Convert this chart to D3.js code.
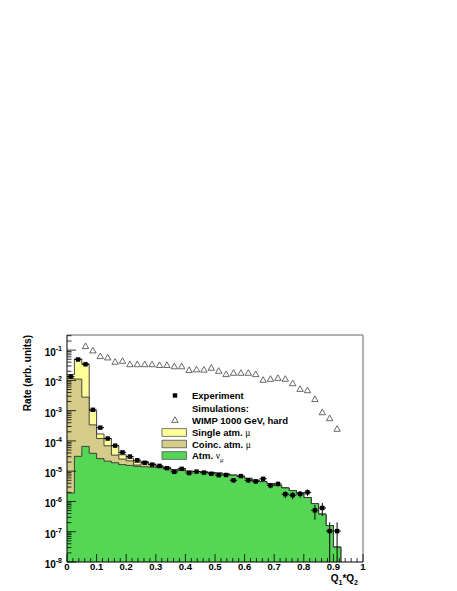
<!DOCTYPE html>
<html>
<head>
<meta charset="utf-8">
<script src="https://cdn.jsdelivr.net/npm/d3@7"></script>
<style>
  body { margin: 0; background: #fff; }
  svg text { font-family: "Liberation Sans", Arial, sans-serif; font-weight: bold; fill: #000; }
</style>
</head>
<body>
<svg id="chart" width="457" height="591"></svg>
<script>
// histogram binning on Q1*Q2
const binWidth = 0.025;
const nBins = 40;

// Atm. nu_mu (green), bottom of the stack
const atmNu = [1.9e-6, 3.1e-5, 6.6e-5, 3.9e-5, 2.6e-5, 2.15e-5, 1.9e-5, 1.65e-5, 1.55e-5, 1.45e-5,
  1.4e-5, 1.35e-5, 1.3e-5, 1.2e-5, 1.1e-5, 1.05e-5, 1.0e-5, 9.7e-6, 9.4e-6, 9.0e-6,
  8.6e-6, 8.0e-6, 7.4e-6, 6.7e-6, 5.8e-6, 5.0e-6, 4.5e-6, 3.9e-6, 3.4e-6, 2.8e-6,
  2.3e-6, 1.9e-6, 1.35e-6, 8.5e-7, 3.8e-7, 1.6e-7, 3.1e-8, 0, 0, 0];

// Coinc. atm. mu (tan)
const coincMu = [1.17e-2, 1.1e-2, 2.73e-3, 3.0e-4, 9.4e-5, 4.75e-5, 1.5e-5, 8.5e-6, 6.5e-6, 1.5e-6,
  5e-6, 3e-6, 1e-6, 1e-6, 2e-7, 1.5e-6, 0, 1e-7, 1e-7, 1e-7,
  1e-7, 0, 0, 0, 0, 0, 0, 0, 0, 0,
  0, 0, 0, 0, 0, 0, 0, 0, 0, 0];

// Single atm. mu (yellow), top of the stack
const singleMu = [3.8e-3, 4.0e-2, 3.2e-2, 6.6e-4, 5.0e-5, 5.1e-5, 3.6e-5, 1.0e-5, 5e-6, 4e-6,
  2e-6, 1e-6, 5e-7, 5e-7, 0, 3e-7, 0, 0, 0, 0,
  0, 0, 0, 0, 0, 0, 0, 0, 0, 0,
  0, 0, 0, 0, 0, 0, 0, 0, 0, 0];

// Experiment (bins 0..36)
const expValues = [1.34e-2, 4.9e-2, 3.4e-2, 1.07e-3, 2.75e-4, 1.2e-4, 7.0e-5, 4.2e-5, 3.05e-5, 2.3e-5,
  1.9e-5, 1.65e-5, 1.5e-5, 1.26e-5, 9.5e-6, 1.2e-5, 8.7e-6, 9.7e-6, 9.0e-6, 8.2e-6,
  7.4e-6, 7.5e-6, 5.0e-6, 6.9e-6, 5.0e-6, 4.6e-6, 5.6e-6, 3.4e-6, 3.8e-6, 1.74e-6,
  1.62e-6, 1.78e-6, 2.0e-6, 5.1e-7, 6.1e-7, 1.05e-7, 1.05e-7];
const expErrors = [1e-4, 3e-4, 2.5e-4, 2e-5, 8e-6, 5e-6, 3.5e-6, 2.6e-6, 2.2e-6, 1.9e-6,
  1.7e-6, 1.6e-6, 1.5e-6, 1.4e-6, 1.2e-6, 1.4e-6, 1.1e-6, 1.2e-6, 1.1e-6, 1.0e-6,
  1.0e-6, 1.0e-6, 8e-7, 9e-7, 8e-7, 8e-7, 9e-7, 7e-7, 7e-7, 4.5e-7,
  4.3e-7, 4.5e-7, 5e-7, 2.6e-7, 2.8e-7, 1.0e-7, 1.0e-7];

// WIMP 1000 GeV, hard (bins 2..36)
const wimpFirstBin = 2;
const wimpValues = [0.135, 0.097, 0.063, 0.057, 0.041, 0.044, 0.034, 0.034, 0.034, 0.034,
  0.032, 0.032, 0.029, 0.029, 0.022, 0.023, 0.0225, 0.026, 0.0206, 0.016,
  0.0177, 0.0177, 0.0177, 0.016, 0.0104, 0.0112, 0.012, 0.0112, 0.008, 0.0052,
  0.0047, 0.0024, 8.8e-4, 5.6e-4, 2.5e-4];

const xTicks = [0, 0.1, 0.2, 0.3, 0.4, 0.5, 0.6, 0.7, 0.8, 0.9, 1];
const xTickLabels = ['0', '0.1', '0.2', '0.3', '0.4', '0.5', '0.6', '0.7', '0.8', '0.9', '1'];
const yDecades = [-8, -7, -6, -5, -4, -3, -2, -1];

const colors = { atmNu: '#55d655', coincMu: '#d6cc8a', singleMu: '#ffff99' };

const frameL = 67, frameR = 363, frameT = 335, frameB = 562;
const x = d3.scaleLinear().domain([0, 1]).range([frameL, frameR]);
const y = d3.scaleLog().domain([1e-8, Math.pow(10, -0.5)]).range([frameB, frameT]).clamp(true);
const yv = v => (v > 0 ? y(v) : frameB + 5);

const svg = d3.select('#chart');

svg.append('clipPath').attr('id', 'frame')
  .append('rect').attr('x', frameL).attr('y', frameT).attr('width', frameR - frameL).attr('height', frameB - frameT);

const plot = svg.append('g').attr('clip-path', 'url(#frame)');

// stack the three MC components
const rows = d3.range(nBins).map(i => ({
  lo: i * binWidth, hi: (i + 1) * binWidth,
  atmNu: atmNu[i], coincMu: coincMu[i], singleMu: singleMu[i]
}));
const stack = d3.stack().keys(['atmNu', 'coincMu', 'singleMu'])(rows);

function stepPoints(layer) {
  const pts = [];
  layer.forEach(d => {
    pts.push([x(d.data.lo), yv(d[1])]);
    pts.push([x(d.data.hi), yv(d[1])]);
  });
  return pts;
}

const area = d3.area().x(d => d[0]).y0(frameB + 5).y1(d => d[1]);
const line = d3.line().x(d => d[0]).y(d => d[1]);

// draw the cumulative histograms from the top one down, like a stack
stack.slice().reverse().forEach(layer => {
  const pts = stepPoints(layer);
  plot.append('path').attr('d', area(pts)).attr('fill', colors[layer.key]);
  plot.append('path').attr('d', line(pts)).attr('fill', 'none')
    .attr('stroke', '#333').attr('stroke-width', 0.9);
});

// WIMP open triangles
plot.selectAll('.wimp')
  .data(wimpValues)
  .enter().append('path')
  .attr('class', 'wimp')
  .attr('d', (v, i) => {
    const cx = x((wimpFirstBin + i + 0.5) * binWidth), cy = y(v);
    return `M${cx - 3.2},${cy + 2.4}L${cx + 3.2},${cy + 2.4}L${cx},${cy - 3.2}Z`;
  })
  .attr('fill', 'none').attr('stroke', '#444').attr('stroke-width', 0.8);

// experiment points with error bars
const exp = plot.selectAll('.exp')
  .data(expValues)
  .enter().append('g')
  .attr('class', 'exp');

exp.append('line')
  .attr('x1', (v, i) => x(i * binWidth)).attr('x2', (v, i) => x((i + 1) * binWidth))
  .attr('y1', v => y(v)).attr('y2', v => y(v))
  .attr('stroke', '#000').attr('stroke-width', 1);

exp.append('line')
  .attr('x1', (v, i) => x((i + 0.5) * binWidth)).attr('x2', (v, i) => x((i + 0.5) * binWidth))
  .attr('y1', (v, i) => y(v + expErrors[i]))
  .attr('y2', (v, i) => yv(v - expErrors[i]))
  .attr('stroke', '#000').attr('stroke-width', 1);

exp.append('rect')
  .attr('x', (v, i) => x((i + 0.5) * binWidth) - 2.2)
  .attr('y', v => y(v) - 2.2)
  .attr('width', 4.4).attr('height', 4.4)
  .attr('fill', '#000');

// frame
svg.append('line').attr('x1', frameL).attr('x2', frameR).attr('y1', frameT).attr('y2', frameT)
  .attr('stroke', '#999').attr('stroke-width', 1.5);
svg.append('line').attr('x1', frameR).attr('x2', frameR).attr('y1', frameT).attr('y2', frameB)
  .attr('stroke', '#999').attr('stroke-width', 1.5);

// y axis (ticks inside)
const yAxis = svg.append('g');
yAxis.append('line').attr('x1', frameL).attr('x2', frameL).attr('y1', frameT).attr('y2', frameB)
  .attr('stroke', '#000');
yDecades.forEach(k => {
  for (let m = 1; m <= 9; m++) {
    const v = m * Math.pow(10, k);
    if (v > y.domain()[1]) continue;
    const len = m === 1 ? 9 : 4.5;
    yAxis.append('line').attr('x1', frameL).attr('x2', frameL + len)
      .attr('y1', y(v)).attr('y2', y(v))
      .attr('stroke', '#000').attr('stroke-width', 0.8);
  }
  const t = yAxis.append('text')
    .attr('x', 62).attr('y', y(Math.pow(10, k)) + 6)
    .attr('text-anchor', 'end').style('font-size', '10px');
  t.append('tspan').text('10');
  t.append('tspan').attr('dy', -5).style('font-size', '7px').text(String(k));
});

// x axis (ticks inside)
const xAxis = svg.append('g');
xAxis.append('line').attr('x1', frameL).attr('x2', frameR).attr('y1', frameB).attr('y2', frameB)
  .attr('stroke', '#000');
d3.range(0, 51).forEach(j => {
  const v = j * 0.02;
  const len = j % 5 === 0 ? 8 : 4;
  xAxis.append('line').attr('x1', x(v)).attr('x2', x(v))
    .attr('y1', frameB).attr('y2', frameB - len)
    .attr('stroke', '#000').attr('stroke-width', 0.8);
});
xAxis.selectAll('.xlab')
  .data(xTicks)
  .enter().append('text')
  .attr('class', 'xlab')
  .attr('x', d => x(d)).attr('y', 570)
  .attr('text-anchor', 'middle').style('font-size', '9.5px')
  .text((d, i) => xTickLabels[i]);

// axis titles
const xt = svg.append('text').attr('x', 358).attr('y', 582)
  .attr('text-anchor', 'end').style('font-size', '10px');
xt.append('tspan').text('Q');
xt.append('tspan').attr('dy', 2.5).style('font-size', '7px').text('1');
xt.append('tspan').attr('dy', -2.5).text('*Q');
xt.append('tspan').attr('dy', 2.5).style('font-size', '7px').text('2');

svg.append('text')
  .attr('transform', `translate(30.5,${frameT}) rotate(-90)`)
  .attr('text-anchor', 'end').style('font-size', '10px')
  .text('Rate (arb. units)');

// legend
const legend = svg.append('g');
const lx = 162, tx = 192;
const rowY = [395.5, 408.5, 420, 432.5, 444, 455.5];

legend.append('rect').attr('x', 175 - 2.2).attr('y', rowY[0] - 2.2)
  .attr('width', 4.4).attr('height', 4.4).attr('fill', '#000');
legend.append('text').attr('x', tx).attr('y', rowY[0] + 3.5).style('font-size', '9.5px').text('Experiment');
legend.append('text').attr('x', tx).attr('y', rowY[1] + 3.5).style('font-size', '9.5px').text('Simulations:');
legend.append('path')
  .attr('d', `M${175 - 3.2},${rowY[2] + 2.4}L${175 + 3.2},${rowY[2] + 2.4}L175,${rowY[2] - 3.2}Z`)
  .attr('fill', 'none').attr('stroke', '#444').attr('stroke-width', 0.8);
legend.append('text').attr('x', tx).attr('y', rowY[2] + 3.5).style('font-size', '9.5px').text('WIMP 1000 GeV, hard');

const boxes = [
  { key: 'singleMu', label: 'Single atm. ', greek: 'μ', sub: null },
  { key: 'coincMu', label: 'Coinc. atm. ', greek: 'μ', sub: null },
  { key: 'atmNu', label: 'Atm. ', greek: 'ν', sub: 'μ' }
];
boxes.forEach((b, i) => {
  const cy = rowY[3 + i];
  legend.append('rect').attr('x', lx).attr('y', cy - 3.8).attr('width', 24.5).attr('height', 7.6)
    .attr('fill', colors[b.key]).attr('stroke', '#555').attr('stroke-width', 0.8);
  const t = legend.append('text').attr('x', tx).attr('y', cy + 3.5).style('font-size', '9.5px');
  t.append('tspan').text(b.label);
  t.append('tspan').style('font-family', '"Liberation Serif", serif').style('font-weight', 'normal')
    .style('font-size', '9.5px').text(b.greek);
  if (b.sub) {
    t.append('tspan').attr('dy', 2.5).style('font-family', '"Liberation Serif", serif')
      .style('font-weight', 'normal').style('font-size', '6.5px').text(b.sub);
  }
});
</script>
</body>
</html>
